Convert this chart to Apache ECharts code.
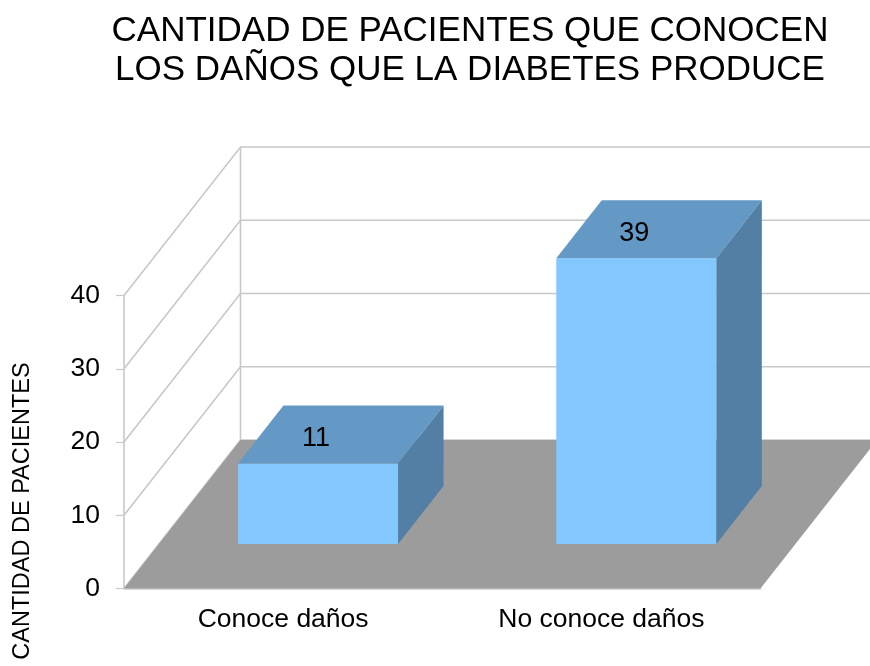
<!DOCTYPE html>
<html>
<head>
<meta charset="utf-8">
<style>html,body{margin:0;padding:0;background:#fff}#c{width:870px;height:666px}</style>
<script src="https://cdn.jsdelivr.net/npm/echarts@6/dist/echarts.min.js"></script>
</head>
<body>
<div id="c"></div>
<script>
const chartTitle = 'CANTIDAD DE PACIENTES QUE CONOCEN\nLOS DAÑOS QUE LA DIABETES PRODUCE';
const yName = 'CANTIDAD DE PACIENTES';
const categories = ['Conoce daños', 'No conoce daños'];
const values = [11, 39];
const yTicks = [0, 10, 20, 30, 40];

const FONT = '"Liberation Sans", Arial, sans-serif';
const WALL_X = 116.5, WALL_Y = -148.5;   // floor depth vector
const FRONT_T = 0.30;                    // bar front as share of floor depth
const DEPTH_T = 0.39;                    // bar depth as share of floor depth
const BAR_W = 0.503;                     // bar width as share of band
const LINE = '#c8c8c8';

const chart = echarts.init(document.getElementById('c'), null, {renderer: 'canvas'});

function renderFloor(params, api) {
  const cs = params.coordSys;
  const b = cs.y + cs.height, l = cs.x, r = cs.x + cs.width;
  return {
    type: 'polygon',
    shape: {points: [[l, b], [l + WALL_X, b + WALL_Y], [r + WALL_X, b + WALL_Y], [r, b]]},
    style: {fill: '#9c9c9c'}
  };
}

function renderGrid(params, api) {
  const cs = params.coordSys;
  const p = api.coord([0, api.value(0)]);
  const y = p[1], l = cs.x, r = cs.x + cs.width;
  return {
    type: 'polyline',
    shape: {points: [[l, y], [l + WALL_X, y + WALL_Y], [r + WALL_X, y + WALL_Y]]},
    style: {stroke: LINE, lineWidth: 1.6, fill: null}
  };
}

function renderWall(params, api) {
  const cs = params.coordSys;
  const x = cs.x + WALL_X;
  return {
    type: 'line',
    shape: {x1: x, y1: cs.y + WALL_Y, x2: x, y2: cs.y + cs.height + WALL_Y},
    style: {stroke: LINE, lineWidth: 1.6}
  };
}

function renderBar(params, api) {
  const c = api.coord([api.value(0), api.value(1)]);
  const zero = api.coord([api.value(0), 0]);
  const band = api.size([1, 0])[0];
  const w = band * BAR_W;
  const fx = WALL_X * FRONT_T, fy = WALL_Y * FRONT_T;
  const dx = WALL_X * DEPTH_T, dy = WALL_Y * DEPTH_T;
  const l = c[0] - w / 2 + fx, r = c[0] + w / 2 + fx;
  const t = c[1] + fy, b = zero[1] + fy;
  return {
    type: 'group',
    children: [
      {type: 'polygon', shape: {points: [[l, t], [r, t], [r, b], [l, b]]}, style: {fill: '#82c8ff'}},
      {type: 'polygon', shape: {points: [[l, t], [l + dx, t + dy], [r + dx, t + dy], [r, t]]}, style: {fill: '#6399c4'}},
      {type: 'polygon', shape: {points: [[r, t], [r + dx, t + dy], [r + dx, b + dy], [r, b]]}, style: {fill: '#527fa3'}},
      {type: 'text', x: (l + r) / 2 - 2, y: t - 25,
        style: {text: String(api.value(1)), font: '27px ' + FONT, fill: '#000', align: 'center', verticalAlign: 'middle'}}
    ]
  };
}

chart.setOption({
  animation: false,
  backgroundColor: '#fff',
  title: {
    text: chartTitle, left: 465, top: 7, textAlign: 'center',
    textStyle: {fontFamily: FONT, fontSize: 35, fontWeight: 'normal', color: '#000', lineHeight: 39}
  },
  grid: {left: 124, top: 295.5, width: 636.5, height: 293},
  xAxis: {
    type: 'category', data: categories,
    axisLine: {lineStyle: {color: LINE, width: 1.6}},
    axisTick: {length: 9, alignWithLabel: false, lineStyle: {color: LINE, width: 1.2}},
    axisLabel: {fontFamily: FONT, fontSize: 26.5, color: '#000', margin: 18}
  },
  yAxis: {
    type: 'value', min: 0, max: 40, interval: 10,
    name: yName, nameLocation: 'middle', nameGap: 89, nameRotate: 90,
    nameTextStyle: {fontFamily: FONT, fontSize: 23.5, color: '#000', padding: [0, 138, 0, 0]},
    splitLine: {show: false},
    axisLine: {show: true, lineStyle: {color: LINE, width: 1.6}},
    axisTick: {show: true, length: 8, lineStyle: {color: LINE, width: 1.2}},
    axisLabel: {fontFamily: FONT, fontSize: 26.5, color: '#000', margin: 24, padding: [5, 0, 0, 0],
      formatter: v => yTicks.includes(v) ? String(v) : ''}
  },
  series: [
    {type: 'custom', coordinateSystem: 'cartesian2d', clip: false, silent: true, z: 1, renderItem: renderGrid, data: yTicks.map(v => [v]), encode: {y: 0}},
    {type: 'custom', coordinateSystem: 'cartesian2d', clip: false, silent: true, z: 1, renderItem: renderWall, data: [[0]], encode: {y: 0}},
    {type: 'custom', coordinateSystem: 'cartesian2d', clip: false, silent: true, z: 2, renderItem: renderFloor, data: [[0]], encode: {y: 0}},
    {type: 'custom', coordinateSystem: 'cartesian2d', clip: false, silent: true, z: 3, renderItem: renderBar,
      data: categories.map((c, i) => [i, values[i]]), encode: {x: 0, y: 1}}
  ]
});
</script>
</body>
</html>
